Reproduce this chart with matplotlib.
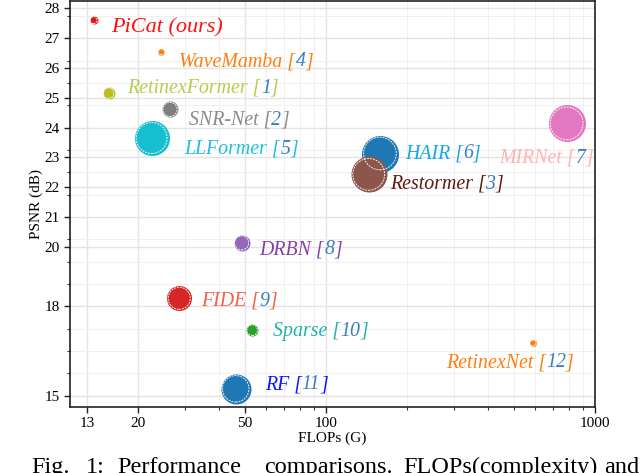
import matplotlib
matplotlib.use("Agg")
import matplotlib.pyplot as plt
from matplotlib.ticker import FixedLocator, NullFormatter, LogLocator, FixedFormatter
import numpy as np

plt.rcParams['font.family'] = ['Liberation Serif', 'DejaVu Serif']

# ---- data ----
methods = ["PiCat (ours)", "WaveMamba", "RetinexFormer", "SNR-Net", "LLFormer", "HAIR",
           "Restormer", "MIRNet", "DRBN", "FIDE", "Sparse", "RF", "RetinexNet"]
refs = ["", "4", "1", "2", "5", "6", "3", "7", "8", "9", "10", "11", "12"]
flops = [13.7, 24.5, 15.57, 26.35, 22.52, 158.8, 144.25, 785.0, 48.61, 28.51, 53.26, 46.23, 587.47]
psnr = [27.61, 26.54, 25.16, 24.61, 23.65, 23.13, 22.43, 24.14, 20.13, 18.27, 17.20, 15.23, 16.77]
xticks = [13, 20, 50, 100, 1000]
yticks = [15, 18, 20, 21, 22, 23, 24, 25, 26, 27, 28]

# ---- styles ----
marker_colors = ["#e8161b", "#ff7f0e", "#bcbd22", "#7f7f7f", "#17becf", "#1f77b4",
                 "#8c564b", "#e377c2", "#9467bd", "#d62728", "#2ca02c", "#1f77b4", "#ff7f0e"]
text_colors = ["#ff1010", "#ff7f0e", "#b3cf4a", "#8a8a8a", "#1fc0dc", "#10a8ee",
               "#5e1a0e", "#ffb3b3", "#8a3fa6", "#f2604a", "#20b2aa", "#0a14ff", "#ff7f0e"]
diam_px = [8, 7, 12, 16, 35, 37, 36, 37, 16, 25, 12, 30, 7]
# label offsets in pixels (dx right, dy up)
offsets = [(18, -8), (18, -10), (19, 5), (19, -11), (33, -11), (25, 0), (21, -10),
           (-67, -35), (18, -7), (22, -3), (21, -1), (29, 4), (-87, -20)]
cite_color = "#3a7cc3"

fig = plt.figure(figsize=(6.4, 4.73), dpi=100)
ax = fig.add_axes([70/640, 1-407/473, 525/640, 406/473])
ax.set_xscale('log')
ax.set_xlim(11.2, 1000)
ax.set_ylim(14.62, 28.25)

ax.xaxis.set_major_locator(FixedLocator(xticks))
ax.xaxis.set_major_formatter(FixedFormatter([str(t) for t in xticks]))
ax.xaxis.set_minor_locator(LogLocator(base=10, subs=np.arange(2, 10)))
ax.xaxis.set_minor_formatter(NullFormatter())
ax.yaxis.set_major_locator(FixedLocator(yticks))
ax.yaxis.set_major_formatter(FixedFormatter([str(t) for t in yticks]))
ax.yaxis.set_minor_locator(FixedLocator(np.arange(15, 28.3, 0.75)))

ax.grid(True, which='major', color='#e4e4e4', lw=1.0)
ax.grid(True, which='minor', color='#f0f0f0', lw=0.7)
ax.set_axisbelow(True)

for sp in ax.spines.values():
    sp.set_color('#222222')
    sp.set_linewidth(1.2)
ax.tick_params(axis='both', which='major', direction='out', length=4, width=1,
               labelsize=11, colors='#222222', labelcolor='black')
ax.tick_params(axis='both', which='minor', direction='out', length=2, width=0.8, colors='#333333')

for i in range(len(methods)):
    s = (0.72 * diam_px[i]) ** 2
    ax.scatter([flops[i]], [psnr[i]], s=s, color=marker_colors[i], zorder=3, linewidths=0)
    ax.scatter([flops[i]], [psnr[i]], s=s * 0.78, facecolors='none', edgecolors='white',
               linewidths=0.7, linestyle=(0, (2, 1)), zorder=4, alpha=0.9)

for i in range(len(methods)):
    dx, dy = offsets[i]
    fs = 16 if i == 0 else 14.3
    if refs[i]:
        pieces = [(methods[i] + " [", text_colors[i]), (refs[i], cite_color), ("]", text_colors[i])]
    else:
        pieces = [(methods[i], text_colors[i])]
    prev = ax.annotate(pieces[0][0], xy=(flops[i], psnr[i]), xytext=(dx, dy),
                       textcoords='offset pixels', ha='left', va='center',
                       color=pieces[0][1], fontsize=fs, fontstyle='italic', zorder=5)
    for txt, col in pieces[1:]:
        prev = ax.annotate(txt, xy=(1, 0), xycoords=prev, ha='left', va='bottom',
                           color=col, fontsize=fs, fontstyle='italic', zorder=5)

ax.set_xlabel("FLOPs (G)", fontsize=11, labelpad=1)
ax.set_ylabel("PSNR (dB)", fontsize=11, labelpad=1)

# cropped caption beneath the figure
words = [("Fig.", 31), ("1:", 86), ("Performance", 117), ("comparisons.", 264),
         ("FLOPs(complexity)", 403), ("and", 604)]
for w, xp in words:
    fig.text(xp / 640, 1 - 473 / 473, w, fontsize=17.5, ha='left', va='baseline', color='black')

fig.savefig("out.png", dpi=100)
